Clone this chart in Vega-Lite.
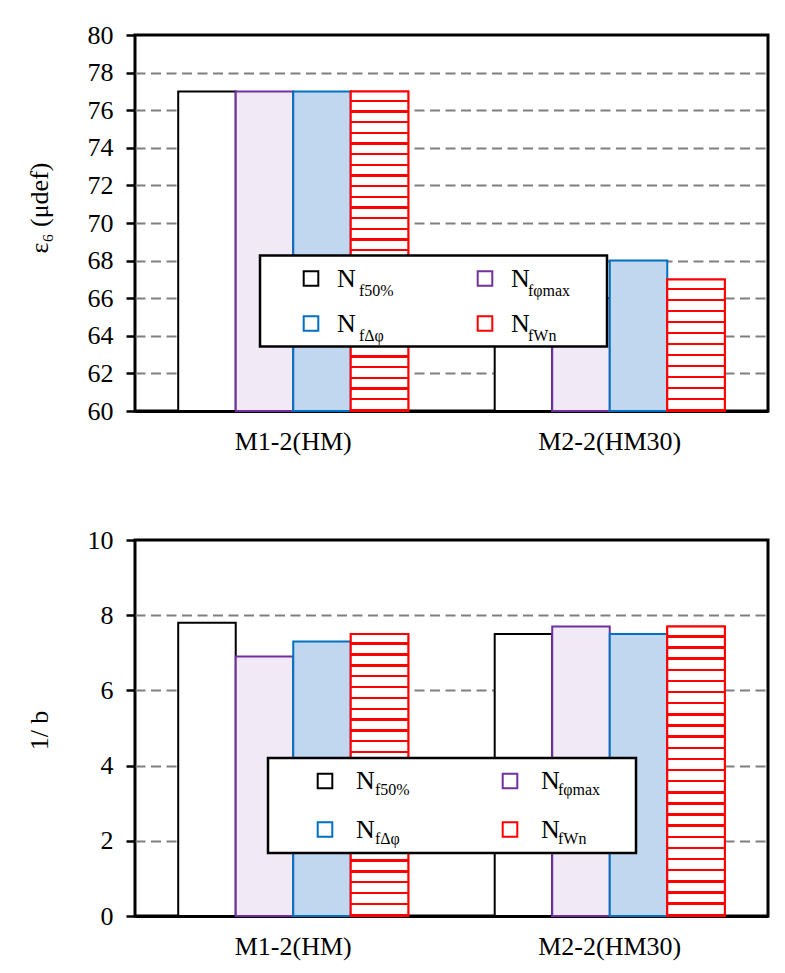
{
  "$schema": "https://vega.github.io/schema/vega-lite/v6.json",
  "padding": {"left": 24, "top": 20, "right": 10, "bottom": 10},
  "background": "white",
  "bounds": "flush",
  "spacing": 129,
  "config": {
    "font": "Liberation Serif",
    "view": {"stroke": "black", "strokeWidth": 3},
    "legend": {"strokeWidth": 2.5, "labelFont": "Liberation Serif", "labelColor": "black", "titleColor": "black"},
    "axisX": {"labelAngle": 0, "ticks": false, "domain": true, "domainColor": "black", "domainWidth": 3, "zindex": 1, "labelFont": "Liberation Serif", "labelFontSize": 26, "labelPadding": 17, "labelColor": "black", "grid": false},
    "axisY": {"labelFont": "Liberation Serif", "labelFontSize": 26, "labelPadding": 13, "labelColor": "black", "tickSize": 9, "tickWidth": 2.5, "tickColor": "black", "domain": false, "grid": true, "gridColor": "#7f7f7f", "gridDash": [10, 5.5], "gridWidth": 2, "labelOverlap": false, "titleFont": "Liberation Serif", "titleFontSize": 26, "titleFontWeight": "normal", "titleColor": "black", "titleX": -88, "titleBaseline": "alphabetic", "titleAlign": "center", "titleAngle": 270}
  },
  "resolve": {"scale": {"fill": "independent", "stroke": "independent", "opacity": "independent"}},
  "datasets": {
    "strain": [
      {"group": "M1-2(HM)", "series": "f50%", "value": 77},
      {"group": "M1-2(HM)", "series": "fφmax", "value": 77},
      {"group": "M1-2(HM)", "series": "fΔφ", "value": 77},
      {"group": "M1-2(HM)", "series": "fWn", "value": 77},
      {"group": "M2-2(HM30)", "series": "f50%", "value": 66},
      {"group": "M2-2(HM30)", "series": "fφmax", "value": 66},
      {"group": "M2-2(HM30)", "series": "fΔφ", "value": 68},
      {"group": "M2-2(HM30)", "series": "fWn", "value": 67}
    ],
    "invb": [
      {"group": "M1-2(HM)", "series": "f50%", "value": 7.8},
      {"group": "M1-2(HM)", "series": "fφmax", "value": 6.9},
      {"group": "M1-2(HM)", "series": "fΔφ", "value": 7.3},
      {"group": "M1-2(HM)", "series": "fWn", "value": 7.5},
      {"group": "M2-2(HM30)", "series": "f50%", "value": 7.5},
      {"group": "M2-2(HM30)", "series": "fφmax", "value": 7.7},
      {"group": "M2-2(HM30)", "series": "fΔφ", "value": 7.5},
      {"group": "M2-2(HM30)", "series": "fWn", "value": 7.7}
    ]
  },
  "vconcat": [
    {
      "width": 633,
      "height": 376,
      "data": {"name": "strain"},
      "encoding": {
        "x": {"field": "group", "type": "nominal", "sort": null, "scale": {"paddingInner": 0.273, "paddingOuter": 0.1365}, "axis": {"title": null}},
        "xOffset": {"field": "series", "type": "nominal", "sort": ["f50%", "fφmax", "fΔφ", "fWn"], "scale": {"paddingInner": 0, "paddingOuter": 0}},
        "y": {"field": "value", "type": "quantitative", "scale": {"domain": [60, 80], "zero": false, "nice": false},
              "axis": {"values": [60, 62, 64, 66, 68, 70, 72, 74, 76, 78, 80], "title": "ε₆ (μdef)", "titleY": 172.5,
                       "gridOpacity": {"condition": {"test": "datum.value === 60 || datum.value === 80", "value": 0}, "value": 1}}},
        "y2": {"datum": 60}
      },
      "layer": [
        {
          "mark": {"type": "bar", "strokeWidth": 2},
          "encoding": {
            "fill": {"field": "series", "type": "nominal", "sort": ["f50%", "fΔφ", "fφmax", "fWn"],
                     "scale": {"range": ["#ffffff", "#c0d7ef", "#f1eaf6", "#ffd0d0"]}, "legend": null},
            "stroke": {"field": "series", "type": "nominal", "sort": ["f50%", "fΔφ", "fφmax", "fWn"],
                     "scale": {"range": ["#000000", "#0070c0", "#7030a0", "#ff0000"]},
                     "legend": {"orient": "none", "legendX": 125, "legendY": 220.5, "columns": 2, "title": "\u00a0", "titleOrient": "right", "titleFontSize": 2, "titlePadding": 67,
                                "labelExpr": "'N'", "labelFontSize": 26, "symbolType": "square", "symbolSize": 213, "symbolStrokeWidth": 2, "symbolOffset": 28, "labelOffset": 13, "symbolFillColor": "white",
                                "columnPadding": 88, "rowPadding": 19, "padding": 10, "strokeColor": "black", "fillColor": "white"}},
            "opacity": {"field": "series", "type": "ordinal", "scale": {"type": "point", "domain": ["f50%", "fΔφ", "fφmax", "fWn"], "range": [1, 1]},
                     "legend": {"orient": "none", "legendX": 208, "legendY": 247.5, "columns": 2, "title": null, "labelFontSize": 16,
                                "symbolSize": 0, "symbolStrokeWidth": 0, "symbolOpacity": 0, "labelOffset": 0, "columnPadding": 118, "rowPadding": 29.3, "padding": 0}}
          }
        },
        {
          "transform": [{"filter": "datum.series === 'fWn' && datum.group === 'M1-2(HM)'"}],
          "mark": {"type": "bar", "strokeWidth": 2, "stroke": "#ff0000",
                   "fill": {"gradient": "linear", "x1": 0, "y1": 0, "x2": 0, "y2": 1, "stops": [
                     {"offset": 0, "color": "#fff"}, {"offset": 0.026, "color": "#fff"}, {"offset": 0.026, "color": "red"}, {"offset": 0.03333, "color": "red"},
                     {"offset": 0.03333, "color": "#fff"}, {"offset": 0.05933, "color": "#fff"}, {"offset": 0.05933, "color": "red"}, {"offset": 0.06667, "color": "red"},
                     {"offset": 0.06667, "color": "#fff"}, {"offset": 0.09267, "color": "#fff"}, {"offset": 0.09267, "color": "red"}, {"offset": 0.1, "color": "red"},
                     {"offset": 0.1, "color": "#fff"}, {"offset": 0.126, "color": "#fff"}, {"offset": 0.126, "color": "red"}, {"offset": 0.13333, "color": "red"},
                     {"offset": 0.13333, "color": "#fff"}, {"offset": 0.15933, "color": "#fff"}, {"offset": 0.15933, "color": "red"}, {"offset": 0.16667, "color": "red"},
                     {"offset": 0.16667, "color": "#fff"}, {"offset": 0.19267, "color": "#fff"}, {"offset": 0.19267, "color": "red"}, {"offset": 0.2, "color": "red"},
                     {"offset": 0.2, "color": "#fff"}, {"offset": 0.226, "color": "#fff"}, {"offset": 0.226, "color": "red"}, {"offset": 0.23333, "color": "red"},
                     {"offset": 0.23333, "color": "#fff"}, {"offset": 0.25933, "color": "#fff"}, {"offset": 0.25933, "color": "red"}, {"offset": 0.26667, "color": "red"},
                     {"offset": 0.26667, "color": "#fff"}, {"offset": 0.29267, "color": "#fff"}, {"offset": 0.29267, "color": "red"}, {"offset": 0.3, "color": "red"},
                     {"offset": 0.3, "color": "#fff"}, {"offset": 0.326, "color": "#fff"}, {"offset": 0.326, "color": "red"}, {"offset": 0.33333, "color": "red"},
                     {"offset": 0.33333, "color": "#fff"}, {"offset": 0.35933, "color": "#fff"}, {"offset": 0.35933, "color": "red"}, {"offset": 0.36667, "color": "red"},
                     {"offset": 0.36667, "color": "#fff"}, {"offset": 0.39267, "color": "#fff"}, {"offset": 0.39267, "color": "red"}, {"offset": 0.4, "color": "red"},
                     {"offset": 0.4, "color": "#fff"}, {"offset": 0.426, "color": "#fff"}, {"offset": 0.426, "color": "red"}, {"offset": 0.43333, "color": "red"},
                     {"offset": 0.43333, "color": "#fff"}, {"offset": 0.45933, "color": "#fff"}, {"offset": 0.45933, "color": "red"}, {"offset": 0.46667, "color": "red"},
                     {"offset": 0.46667, "color": "#fff"}, {"offset": 0.49267, "color": "#fff"}, {"offset": 0.49267, "color": "red"}, {"offset": 0.5, "color": "red"},
                     {"offset": 0.5, "color": "#fff"}, {"offset": 0.526, "color": "#fff"}, {"offset": 0.526, "color": "red"}, {"offset": 0.53333, "color": "red"},
                     {"offset": 0.53333, "color": "#fff"}, {"offset": 0.55933, "color": "#fff"}, {"offset": 0.55933, "color": "red"}, {"offset": 0.56667, "color": "red"},
                     {"offset": 0.56667, "color": "#fff"}, {"offset": 0.59267, "color": "#fff"}, {"offset": 0.59267, "color": "red"}, {"offset": 0.6, "color": "red"},
                     {"offset": 0.6, "color": "#fff"}, {"offset": 0.626, "color": "#fff"}, {"offset": 0.626, "color": "red"}, {"offset": 0.63333, "color": "red"},
                     {"offset": 0.63333, "color": "#fff"}, {"offset": 0.65933, "color": "#fff"}, {"offset": 0.65933, "color": "red"}, {"offset": 0.66667, "color": "red"},
                     {"offset": 0.66667, "color": "#fff"}, {"offset": 0.69267, "color": "#fff"}, {"offset": 0.69267, "color": "red"}, {"offset": 0.7, "color": "red"},
                     {"offset": 0.7, "color": "#fff"}, {"offset": 0.726, "color": "#fff"}, {"offset": 0.726, "color": "red"}, {"offset": 0.73333, "color": "red"},
                     {"offset": 0.73333, "color": "#fff"}, {"offset": 0.75933, "color": "#fff"}, {"offset": 0.75933, "color": "red"}, {"offset": 0.76667, "color": "red"},
                     {"offset": 0.76667, "color": "#fff"}, {"offset": 0.79267, "color": "#fff"}, {"offset": 0.79267, "color": "red"}, {"offset": 0.8, "color": "red"},
                     {"offset": 0.8, "color": "#fff"}, {"offset": 0.826, "color": "#fff"}, {"offset": 0.826, "color": "red"}, {"offset": 0.83333, "color": "red"},
                     {"offset": 0.83333, "color": "#fff"}, {"offset": 0.85933, "color": "#fff"}, {"offset": 0.85933, "color": "red"}, {"offset": 0.86667, "color": "red"},
                     {"offset": 0.86667, "color": "#fff"}, {"offset": 0.89267, "color": "#fff"}, {"offset": 0.89267, "color": "red"}, {"offset": 0.9, "color": "red"},
                     {"offset": 0.9, "color": "#fff"}, {"offset": 0.926, "color": "#fff"}, {"offset": 0.926, "color": "red"}, {"offset": 0.93333, "color": "red"},
                     {"offset": 0.93333, "color": "#fff"}, {"offset": 0.95933, "color": "#fff"}, {"offset": 0.95933, "color": "red"}, {"offset": 0.96667, "color": "red"},
                     {"offset": 0.96667, "color": "#fff"}, {"offset": 0.99267, "color": "#fff"}, {"offset": 0.99267, "color": "red"}, {"offset": 1, "color": "red"}
                   ]}}
        },
        {
          "transform": [{"filter": "datum.series === 'fWn' && datum.group === 'M2-2(HM30)'"}],
          "mark": {"type": "bar", "strokeWidth": 2, "stroke": "#ff0000",
                   "fill": {"gradient": "linear", "x1": 0, "y1": 0, "x2": 0, "y2": 1, "stops": [
                     {"offset": 0, "color": "#fff"}, {"offset": 0.065, "color": "#fff"}, {"offset": 0.065, "color": "red"}, {"offset": 0.08333, "color": "red"},
                     {"offset": 0.08333, "color": "#fff"}, {"offset": 0.14833, "color": "#fff"}, {"offset": 0.14833, "color": "red"}, {"offset": 0.16667, "color": "red"},
                     {"offset": 0.16667, "color": "#fff"}, {"offset": 0.23167, "color": "#fff"}, {"offset": 0.23167, "color": "red"}, {"offset": 0.25, "color": "red"},
                     {"offset": 0.25, "color": "#fff"}, {"offset": 0.315, "color": "#fff"}, {"offset": 0.315, "color": "red"}, {"offset": 0.33333, "color": "red"},
                     {"offset": 0.33333, "color": "#fff"}, {"offset": 0.39833, "color": "#fff"}, {"offset": 0.39833, "color": "red"}, {"offset": 0.41667, "color": "red"},
                     {"offset": 0.41667, "color": "#fff"}, {"offset": 0.48167, "color": "#fff"}, {"offset": 0.48167, "color": "red"}, {"offset": 0.5, "color": "red"},
                     {"offset": 0.5, "color": "#fff"}, {"offset": 0.565, "color": "#fff"}, {"offset": 0.565, "color": "red"}, {"offset": 0.58333, "color": "red"},
                     {"offset": 0.58333, "color": "#fff"}, {"offset": 0.64833, "color": "#fff"}, {"offset": 0.64833, "color": "red"}, {"offset": 0.66667, "color": "red"},
                     {"offset": 0.66667, "color": "#fff"}, {"offset": 0.73167, "color": "#fff"}, {"offset": 0.73167, "color": "red"}, {"offset": 0.75, "color": "red"},
                     {"offset": 0.75, "color": "#fff"}, {"offset": 0.815, "color": "#fff"}, {"offset": 0.815, "color": "red"}, {"offset": 0.83333, "color": "red"},
                     {"offset": 0.83333, "color": "#fff"}, {"offset": 0.89833, "color": "#fff"}, {"offset": 0.89833, "color": "red"}, {"offset": 0.91667, "color": "red"},
                     {"offset": 0.91667, "color": "#fff"}, {"offset": 0.98167, "color": "#fff"}, {"offset": 0.98167, "color": "red"}, {"offset": 1, "color": "red"}
                   ]}}
        }
      ]
    },
    {
      "width": 633,
      "height": 376,
      "data": {"name": "invb"},
      "encoding": {
        "x": {"field": "group", "type": "nominal", "sort": null, "scale": {"paddingInner": 0.273, "paddingOuter": 0.1365}, "axis": {"title": null}},
        "xOffset": {"field": "series", "type": "nominal", "sort": ["f50%", "fφmax", "fΔφ", "fWn"], "scale": {"paddingInner": 0, "paddingOuter": 0}},
        "y": {"field": "value", "type": "quantitative", "scale": {"domain": [0, 10], "nice": false},
              "axis": {"values": [0, 2, 4, 6, 8, 10], "title": "1/ b", "titleY": 190,
                       "gridOpacity": {"condition": {"test": "datum.value === 0 || datum.value === 10", "value": 0}, "value": 1}}},
        "y2": {"datum": 0}
      },
      "layer": [
        {
          "mark": {"type": "bar", "strokeWidth": 2},
          "encoding": {
            "fill": {"field": "series", "type": "nominal", "sort": ["f50%", "fΔφ", "fφmax", "fWn"],
                     "scale": {"range": ["#ffffff", "#c0d7ef", "#f1eaf6", "#ffd0d0"]}, "legend": null},
            "stroke": {"field": "series", "type": "nominal", "sort": ["f50%", "fΔφ", "fφmax", "fWn"],
                     "scale": {"range": ["#000000", "#0070c0", "#7030a0", "#ff0000"]},
                     "legend": {"orient": "none", "legendX": 133, "legendY": 218, "columns": 2, "title": "\u00a0", "titleOrient": "right", "titleFontSize": 2, "titlePadding": 66,
                                "labelExpr": "'N'", "labelFontSize": 26, "symbolType": "square", "symbolSize": 213, "symbolStrokeWidth": 2, "symbolOffset": 34, "labelOffset": 18, "symbolFillColor": "white",
                                "columnPadding": 88, "rowPadding": 22.5, "padding": 10, "strokeColor": "black", "fillColor": "white"}},
            "opacity": {"field": "series", "type": "ordinal", "scale": {"type": "point", "domain": ["f50%", "fΔφ", "fφmax", "fWn"], "range": [1, 1]},
                     "legend": {"orient": "none", "legendX": 224, "legendY": 242, "columns": 2, "title": null, "labelFontSize": 16,
                                "symbolSize": 0, "symbolStrokeWidth": 0, "symbolOpacity": 0, "labelOffset": 0, "columnPadding": 132, "rowPadding": 32.5, "padding": 0}}
          }
        },
        {
          "transform": [{"filter": "datum.series === 'fWn'"}],
          "mark": {"type": "bar", "strokeWidth": 2, "stroke": "#ff0000",
                   "fill": {"gradient": "linear", "x1": 0, "y1": 0, "x2": 0, "y2": 1, "stops": [
                     {"offset": 0, "color": "#fff"}, {"offset": 0.03, "color": "#fff"}, {"offset": 0.03, "color": "red"}, {"offset": 0.03846, "color": "red"},
                     {"offset": 0.03846, "color": "#fff"}, {"offset": 0.06846, "color": "#fff"}, {"offset": 0.06846, "color": "red"}, {"offset": 0.07692, "color": "red"},
                     {"offset": 0.07692, "color": "#fff"}, {"offset": 0.10692, "color": "#fff"}, {"offset": 0.10692, "color": "red"}, {"offset": 0.11538, "color": "red"},
                     {"offset": 0.11538, "color": "#fff"}, {"offset": 0.14538, "color": "#fff"}, {"offset": 0.14538, "color": "red"}, {"offset": 0.15385, "color": "red"},
                     {"offset": 0.15385, "color": "#fff"}, {"offset": 0.18385, "color": "#fff"}, {"offset": 0.18385, "color": "red"}, {"offset": 0.19231, "color": "red"},
                     {"offset": 0.19231, "color": "#fff"}, {"offset": 0.22231, "color": "#fff"}, {"offset": 0.22231, "color": "red"}, {"offset": 0.23077, "color": "red"},
                     {"offset": 0.23077, "color": "#fff"}, {"offset": 0.26077, "color": "#fff"}, {"offset": 0.26077, "color": "red"}, {"offset": 0.26923, "color": "red"},
                     {"offset": 0.26923, "color": "#fff"}, {"offset": 0.29923, "color": "#fff"}, {"offset": 0.29923, "color": "red"}, {"offset": 0.30769, "color": "red"},
                     {"offset": 0.30769, "color": "#fff"}, {"offset": 0.33769, "color": "#fff"}, {"offset": 0.33769, "color": "red"}, {"offset": 0.34615, "color": "red"},
                     {"offset": 0.34615, "color": "#fff"}, {"offset": 0.37615, "color": "#fff"}, {"offset": 0.37615, "color": "red"}, {"offset": 0.38462, "color": "red"},
                     {"offset": 0.38462, "color": "#fff"}, {"offset": 0.41462, "color": "#fff"}, {"offset": 0.41462, "color": "red"}, {"offset": 0.42308, "color": "red"},
                     {"offset": 0.42308, "color": "#fff"}, {"offset": 0.45308, "color": "#fff"}, {"offset": 0.45308, "color": "red"}, {"offset": 0.46154, "color": "red"},
                     {"offset": 0.46154, "color": "#fff"}, {"offset": 0.49154, "color": "#fff"}, {"offset": 0.49154, "color": "red"}, {"offset": 0.5, "color": "red"},
                     {"offset": 0.5, "color": "#fff"}, {"offset": 0.53, "color": "#fff"}, {"offset": 0.53, "color": "red"}, {"offset": 0.53846, "color": "red"},
                     {"offset": 0.53846, "color": "#fff"}, {"offset": 0.56846, "color": "#fff"}, {"offset": 0.56846, "color": "red"}, {"offset": 0.57692, "color": "red"},
                     {"offset": 0.57692, "color": "#fff"}, {"offset": 0.60692, "color": "#fff"}, {"offset": 0.60692, "color": "red"}, {"offset": 0.61538, "color": "red"},
                     {"offset": 0.61538, "color": "#fff"}, {"offset": 0.64538, "color": "#fff"}, {"offset": 0.64538, "color": "red"}, {"offset": 0.65385, "color": "red"},
                     {"offset": 0.65385, "color": "#fff"}, {"offset": 0.68385, "color": "#fff"}, {"offset": 0.68385, "color": "red"}, {"offset": 0.69231, "color": "red"},
                     {"offset": 0.69231, "color": "#fff"}, {"offset": 0.72231, "color": "#fff"}, {"offset": 0.72231, "color": "red"}, {"offset": 0.73077, "color": "red"},
                     {"offset": 0.73077, "color": "#fff"}, {"offset": 0.76077, "color": "#fff"}, {"offset": 0.76077, "color": "red"}, {"offset": 0.76923, "color": "red"},
                     {"offset": 0.76923, "color": "#fff"}, {"offset": 0.79923, "color": "#fff"}, {"offset": 0.79923, "color": "red"}, {"offset": 0.80769, "color": "red"},
                     {"offset": 0.80769, "color": "#fff"}, {"offset": 0.83769, "color": "#fff"}, {"offset": 0.83769, "color": "red"}, {"offset": 0.84615, "color": "red"},
                     {"offset": 0.84615, "color": "#fff"}, {"offset": 0.87615, "color": "#fff"}, {"offset": 0.87615, "color": "red"}, {"offset": 0.88462, "color": "red"},
                     {"offset": 0.88462, "color": "#fff"}, {"offset": 0.91462, "color": "#fff"}, {"offset": 0.91462, "color": "red"}, {"offset": 0.92308, "color": "red"},
                     {"offset": 0.92308, "color": "#fff"}, {"offset": 0.95308, "color": "#fff"}, {"offset": 0.95308, "color": "red"}, {"offset": 0.96154, "color": "red"},
                     {"offset": 0.96154, "color": "#fff"}, {"offset": 0.99154, "color": "#fff"}, {"offset": 0.99154, "color": "red"}, {"offset": 1, "color": "red"}
                   ]}}
        }
      ]
    }
  ]
}
